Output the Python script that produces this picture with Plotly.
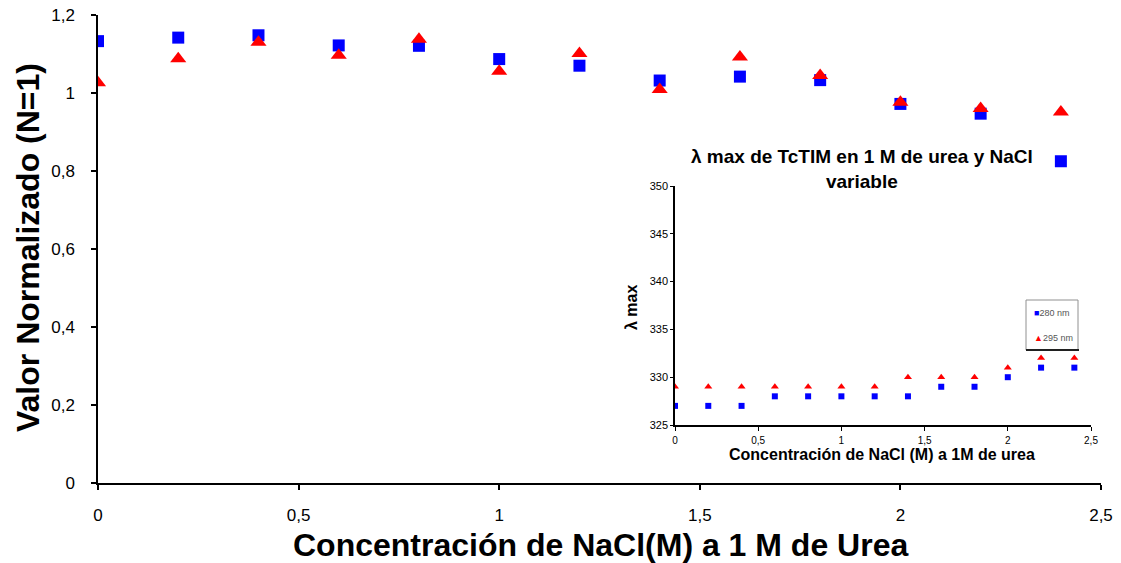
import plotly.graph_objects as go

# NaCl concentration (M) at 1 M urea
nacl = [0, 0.2, 0.4, 0.6, 0.8, 1.0, 1.2, 1.4, 1.6, 1.8, 2.0, 2.2, 2.4]

# Normalised intensity (N=1)
norm_280 = [1.133, 1.142, 1.148, 1.122, 1.121, 1.087, 1.070, 1.032, 1.042, 1.033, 0.972, 0.947, 0.825]
norm_295 = [1.026, 1.088, 1.130, 1.097, 1.138, 1.056, 1.101, 1.009, 1.092, 1.045, 0.976, 0.960, 0.951]

# Emission maximum (nm)
lmax_280 = [327, 327, 327, 328, 328, 328, 328, 328, 329, 329, 330, 331, 331]
lmax_295 = [329, 329, 329, 329, 329, 329, 329, 330, 330, 330, 331, 332, 332]

series_names = ["280 nm", "295 nm"]
main_x_ticks = [0, 0.5, 1, 1.5, 2, 2.5]
main_y_ticks = [0, 0.2, 0.4, 0.6, 0.8, 1.0, 1.2]
inset_y_ticks = [325, 330, 335, 340, 345, 350]

W, H = 1121, 563
FONT = "Liberation Sans, Arial, sans-serif"
BLUE = "#0000FF"
RED = "#FF0000"


def px_x(p):
    return p / W


def px_y(p):
    return 1 - p / H


fig = go.Figure()

# main panel
fig.add_trace(go.Scatter(
    x=nacl, y=norm_280, mode="markers", name=series_names[0], showlegend=False,
    marker=dict(symbol="square", size=12, color=BLUE), xaxis="x", yaxis="y"))
fig.add_trace(go.Scatter(
    x=nacl, y=norm_295, mode="markers", name=series_names[1], showlegend=False,
    marker=dict(symbol="triangle-up", size=14, color=RED), xaxis="x", yaxis="y"))

# inset panel
fig.add_trace(go.Scatter(
    x=nacl, y=lmax_280, mode="markers", name=series_names[0], showlegend=False,
    marker=dict(symbol="square", size=6, color=BLUE), xaxis="x2", yaxis="y2"))
fig.add_trace(go.Scatter(
    x=nacl, y=lmax_295, mode="markers", name=series_names[1], showlegend=False,
    marker=dict(symbol="triangle-up", size=7, color=RED), xaxis="x2", yaxis="y2"))

axis_common = dict(showline=True, linecolor="black", showgrid=False, zeroline=False,
                   ticks="outside", tickcolor="black", mirror=False, automargin=False)

# compact legend box for the inset
LEG_X0, LEG_X1, LEG_Y0, LEG_Y1 = 1026, 1078, 300, 350
legend_shapes = [
    dict(type="rect", xref="paper", yref="paper",
         x0=px_x(LEG_X0), x1=px_x(LEG_X1), y0=px_y(LEG_Y1), y1=px_y(LEG_Y0),
         line=dict(color="#909090", width=1), fillcolor="white", layer="above"),
    dict(type="line", xref="paper", yref="paper",
         x0=px_x(LEG_X0), x1=px_x(LEG_X1 + 1), y0=px_y(LEG_Y1), y1=px_y(LEG_Y1),
         line=dict(color="#202020", width=2), layer="above"),
]
legend_colors = [BLUE, RED]
legend_glyphs = ["■", "▲"]
legend_rows = [313, 338]
legend_notes = [
    dict(text=f"<span style='color:{c}'>{g}</span>{n}",
         xref="paper", yref="paper", x=px_x(LEG_X0 + 6), y=px_y(r),
         xanchor="left", yanchor="middle", showarrow=False,
         font=dict(size=9, color="#555555"))
    for c, g, n, r in zip(legend_colors, legend_glyphs, series_names, legend_rows)
]

fig.update_layout(
    width=W, height=H,
    margin=dict(l=0, r=0, t=0, b=0, autoexpand=False),
    paper_bgcolor="white", plot_bgcolor="rgba(0,0,0,0)",
    separators=",.",
    font=dict(family=FONT, color="black"),
    showlegend=False,
    xaxis=dict(
        domain=[px_x(98), px_x(1101)], range=[0, 2.5], tickvals=main_x_ticks,
        linewidth=1.5, ticklen=5, tickwidth=1.5, ticklabelstandoff=11,
        tickfont=dict(size=17),
        anchor="y", **axis_common),
    yaxis=dict(
        domain=[px_y(483), px_y(15)], range=[0, 1.2], tickvals=main_y_ticks,
        linewidth=1.5, ticklen=5, tickwidth=1.5, ticklabelstandoff=13,
        tickfont=dict(size=17),
        anchor="x", **axis_common),
    xaxis2=dict(
        domain=[px_x(675), px_x(1091)], range=[0, 2.5], tickvals=main_x_ticks,
        linewidth=1.5, ticklen=4, tickwidth=1, ticklabelstandoff=1,
        tickfont=dict(size=10),
        tickprefix="<b>", ticksuffix="</b>",
        anchor="y2", **axis_common),
    yaxis2=dict(
        domain=[px_y(425), px_y(186)], range=[325, 350], tickvals=inset_y_ticks,
        linewidth=1.5, ticklen=3, tickwidth=1, ticklabelstandoff=0,
        tickfont=dict(size=11),
        tickprefix="<b>", ticksuffix="</b>",
        anchor="x2", **axis_common),
    shapes=legend_shapes,
    annotations=[
        # main axis titles
        dict(text="<b>Concentración de NaCl(M) a 1 M de Urea</b>",
             xref="paper", yref="paper", x=px_x(600), y=px_y(545),
             xanchor="center", yanchor="middle", showarrow=False,
             font=dict(size=32)),
        dict(text="<b>Valor Normalizado (N=1)</b>", textangle=-90,
             xref="paper", yref="paper", x=px_x(28), y=px_y(248),
             xanchor="center", yanchor="middle", showarrow=False,
             font=dict(size=32)),
        # inset title and axis titles
        dict(text="<b>λ max de TcTIM en 1 M de urea y NaCl<br>variable</b>",
             xref="paper", yref="paper", x=px_x(862), y=px_y(144),
             xanchor="center", yanchor="top", showarrow=False,
             font=dict(size=19)),
        dict(text="<b>Concentración de NaCl (M) a 1M de urea</b>",
             xref="paper", yref="paper", x=px_x(882), y=px_y(455),
             xanchor="center", yanchor="middle", showarrow=False,
             font=dict(size=16)),
        dict(text="<b>λ max</b>", textangle=-90,
             xref="paper", yref="paper", x=px_x(632), y=px_y(308),
             xanchor="center", yanchor="middle", showarrow=False,
             font=dict(size=16)),
    ] + legend_notes,
)

fig.write_html("out.html")
